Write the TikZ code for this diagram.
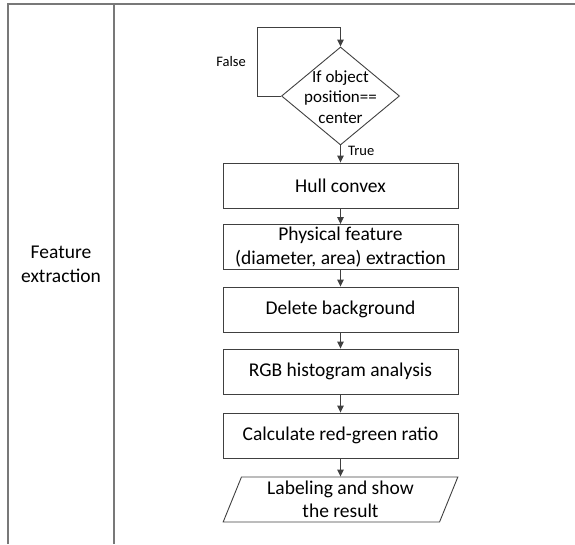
\documentclass[tikz,border=0pt]{standalone}
\usepackage{fontspec}
\setmainfont{Carlito}
\usetikzlibrary{shapes.geometric,arrows.meta}
\definecolor{linegray}{RGB}{64,64,64}
\definecolor{tablegray}{RGB}{120,120,120}
\tikzset{
  stepbox/.style={draw=linegray, line width=0.9pt, rectangle, minimum width=235pt,
    minimum height=45pt, inner sep=0pt, align=center,
    font=\fontsize{19.5}{23.5}\selectfont},
  iobox/.style={stepbox, trapezium, trapezium left angle=70, trapezium right angle=110,
    trapezium stretches=true},
  decbox/.style={draw=linegray, line width=0.9pt, diamond, minimum width=118pt,
    minimum height=98pt, inner sep=0pt},
  flow/.style={draw=linegray, line width=0.9pt, -{Triangle[width=6.5pt,length=7pt]}},
  tag/.style={font=\fontsize{14.5}{17}\selectfont, inner sep=0pt},
  tableline/.style={draw=tablegray, line width=1.2pt}
}
\begin{document}
\begin{tikzpicture}[x=1pt, y=-1pt]
\useasboundingbox (0,0) rectangle (575,544);

% table frame
\coordinate (tl) at (8,4);
\coordinate (tr) at (575,4);
\coordinate (bl) at (8,544);
\coordinate (ml) at (114,4);
\coordinate (mb) at (114,544);
\draw[tableline] (bl) -- (tl) -- (tr);
\draw[tableline] (ml) -- (mb);
\node[font=\fontsize{19.5}{24}\selectfont, align=center] (stage) at (61,264) {Feature\\extraction};

% decision
\node[decbox] (dec) at (340.5,96) {};
\node[align=center, inner sep=0pt, font=\fontsize{17}{20.5}\selectfont] (dectext) at (340.5,97) {If object\\position==\\center};

% process steps
\node[stepbox] (hull) at (340.5,185.5) {Hull convex};
\node[stepbox] (phys) at (340.5,247) {Physical feature\\(diameter, area) extraction};
\node[stepbox] (del) at (340.5,309.5) {Delete background};
\node[stepbox] (rgb) at (340.5,371.5) {RGB histogram analysis};
\node[stepbox] (calc) at (340.5,435.5) {Calculate red-green ratio};
\node[iobox] (out) at (340.5,499.5) {Labeling and show\\the result};

% loop back while not centered
\coordinate (lp1) at (257,96);
\coordinate (lp2) at (257,27);
\coordinate (lp3) at (340.5,27);
\draw[flow] (dec.west) -- (lp1) -- (lp2) -- (lp3) -- (dec.north);
\node[tag] (false) at (231,62) {False};

% main flow
\draw[flow] (dec.south) -- (hull.north);
\node[tag, anchor=west] (true) at (348,151) {True};
\draw[flow] (hull) -- (phys);
\draw[flow] (phys) -- (del);
\draw[flow] (del) -- (rgb);
\draw[flow] (rgb) -- (calc);
\draw[flow] (calc) -- (out);
\end{tikzpicture}
\end{document}
